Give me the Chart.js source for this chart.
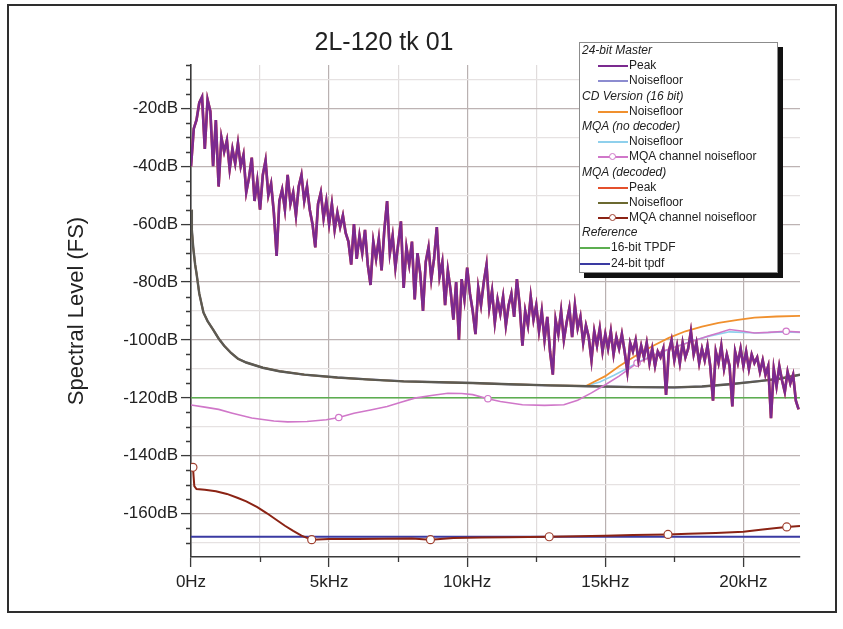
<!DOCTYPE html>
<html>
<head>
<meta charset="utf-8">
<script src="https://cdn.jsdelivr.net/npm/chart.js@4.4.1/dist/chart.umd.min.js"></script>
<style>
  html, body { margin: 0; padding: 0; background: #fff; }
  body { width: 843px; height: 629px; position: relative; overflow: hidden;
         font-family: "Liberation Sans", Arial, Helvetica, sans-serif; }
  #frame { position: absolute; left: 7px; top: 4px; width: 830px; height: 609px;
           border: 2px solid #2e2e2e; box-sizing: border-box; }
  #chart { position: absolute; left: 0; top: 0; }
  #title { position: absolute; left: 234px; width: 300px; top: 27px; text-align: center;
           font-size: 25px; color: #222; }
  #legend { position: absolute; left: 579px; top: 42px; width: 199px; height: 231px;
            box-sizing: border-box; border: 1px solid #8c8c8c; background: #fff;
            box-shadow: 5px 5px 0 #111; font-size: 12px; color: #222; }
  #legend .row { height: 15.2px; line-height: 15.2px; white-space: nowrap; }
  #legend .head { font-style: italic; padding-left: 2px; }
  #legend .item { padding-left: 18px; }
  #legend .item.flush { padding-left: 0; }
  #legend .sw { display: inline-block; width: 30px; height: 15px; vertical-align: top;
                position: relative; margin-right: 1px; }
  #legend .ln { position: absolute; left: 0; right: 0; top: 7px; height: 2px; }
  #legend .mk { position: absolute; left: 11px; top: 3.5px; width: 5px; height: 5px;
                border-radius: 50%; background: #fff; border: 1.5px solid; }
</style>
</head>
<body>
<div id="frame"></div>
<canvas id="chart" width="843" height="629"></canvas>
<div id="title">2L-120 tk 01</div>
<div id="legend"></div>
<script>
// eixos
const xTicksKHz = [0, 5, 10, 15, 20];
const yTicksDb = [-160, -140, -120, -100, -80, -60, -40, -20];

// 24-bit master, peak (a cada 0.1 kHz)
const peakFreqKHz = [
  0.0, 0.1, 0.2, 0.3, 0.4, 0.5, 0.6, 0.7, 0.8, 0.9,
  1.0, 1.1, 1.2, 1.3, 1.4, 1.5, 1.6, 1.7, 1.8, 1.9,
  2.0, 2.1, 2.2, 2.3, 2.4, 2.5, 2.6, 2.7, 2.8, 2.9,
  3.0, 3.1, 3.2, 3.3, 3.4, 3.5, 3.6, 3.7, 3.8, 3.9,
  4.0, 4.1, 4.2, 4.3, 4.4, 4.5, 4.6, 4.7, 4.8, 4.9,
  5.0, 5.1, 5.2, 5.3, 5.4, 5.5, 5.6, 5.7, 5.8, 5.9,
  6.0, 6.1, 6.2, 6.3, 6.4, 6.5, 6.6, 6.7, 6.8, 6.9,
  7.0, 7.1, 7.2, 7.3, 7.4, 7.5, 7.6, 7.7, 7.8, 7.9,
  8.0, 8.1, 8.2, 8.3, 8.4, 8.5, 8.6, 8.7, 8.8, 8.9,
  9.0, 9.1, 9.2, 9.3, 9.4, 9.5, 9.6, 9.7, 9.8, 9.9,
  10.0, 10.1, 10.2, 10.3, 10.4, 10.5, 10.6, 10.7, 10.8, 10.9,
  11.0, 11.1, 11.2, 11.3, 11.4, 11.5, 11.6, 11.7, 11.8, 11.9,
  12.0, 12.1, 12.2, 12.3, 12.4, 12.5, 12.6, 12.7, 12.8, 12.9,
  13.0, 13.1, 13.2, 13.3, 13.4, 13.5, 13.6, 13.7, 13.8, 13.9,
  14.0, 14.1, 14.2, 14.3, 14.4, 14.5, 14.6, 14.7, 14.8, 14.9,
  15.0, 15.1, 15.2, 15.3, 15.4, 15.5, 15.6, 15.7, 15.8, 15.9,
  16.0, 16.1, 16.2, 16.3, 16.4, 16.5, 16.6, 16.7, 16.8, 16.9,
  17.0, 17.1, 17.2, 17.3, 17.4, 17.5, 17.6, 17.7, 17.8, 17.9,
  18.0, 18.1, 18.2, 18.3, 18.4, 18.5, 18.6, 18.7, 18.8, 18.9,
  19.0, 19.1, 19.2, 19.3, 19.4, 19.5, 19.6, 19.7, 19.8, 19.9,
  20.0, 20.1, 20.2, 20.3, 20.4, 20.5, 20.6, 20.7, 20.8, 20.9,
  21.0, 21.1, 21.2, 21.3, 21.4, 21.5, 21.6, 21.7, 21.8, 21.9,
  22.0
];
const masterPeakDb = [
  -40, -27, -24, -18, -16, -34, -17, -21, -40, -24,
  -47, -30, -35, -31, -41, -34, -39, -32, -40, -36,
  -49, -44, -37, -52, -45, -55, -43, -38, -50, -46,
  -56, -71, -52, -48, -55, -43, -53, -49, -57, -47,
  -43, -52, -47, -55, -60, -68, -53, -49, -58, -52,
  -60, -53, -62, -56, -61, -57, -63, -66, -74, -60,
  -72, -64, -70, -62, -74, -81, -66, -72, -65, -76,
  -62, -52, -70, -64, -75, -67, -59, -82, -68, -74,
  -66, -86, -70, -77, -90, -73, -68, -79, -72, -61,
  -78, -73, -88, -76, -83, -93, -80, -100, -79, -86,
  -75, -84, -90, -98, -82, -88, -80, -74, -89, -83,
  -94, -86, -91, -85, -95, -88, -84, -92, -79, -88,
  -102, -90, -95, -85, -93, -88, -97, -90, -100, -92,
  -104, -112, -93, -98, -90, -100, -94, -89, -99, -88,
  -96, -92, -101, -95, -99, -107, -97, -102, -96, -104,
  -98, -103, -97, -105, -99, -103, -98, -104, -111, -101,
  -104, -100, -107, -102, -106, -101, -108, -103, -109, -104,
  -106, -103, -119, -104, -100, -107, -102, -108, -101, -106,
  -103, -97, -105, -101, -108, -103, -107, -102, -109, -121,
  -104, -108, -102, -110, -105, -109, -123, -104, -108, -103,
  -109, -104, -110, -105, -108, -106, -111, -107, -112, -109,
  -127, -110, -116, -109, -114, -118, -111, -115, -112, -121,
  -124
];
// MQA decoded, peak: same trace as the master (drawn underneath)
const decodedPeakDb = masterPeakDb;

// noisefloors (master, MQA decoded) - the dark curve
const noiseFreqKHz = [0, 0.03, 0.08, 0.15, 0.2, 0.3, 0.45, 0.6, 0.8, 1.0, 1.2, 1.45, 1.7, 2.0, 2.6, 3.2,
  4.1, 5.3, 6.5, 7.7, 9, 10.2, 11.5, 13, 14.4, 16, 17.5, 18.5, 19.5, 20.5, 21.3, 22.05];
const decodedNoiseDb = [-55, -62, -68, -74, -77, -84, -90.5, -93.5, -96.4, -99.5, -102, -104.5, -106.5, -107.8, -109.6, -110.8,
  -112, -113, -113.7, -114.3, -114.6, -114.9, -115.3, -115.7, -116, -116.3, -116.4, -116.1, -115.3, -114.3, -113.4, -112];
const masterNoiseDb = decodedNoiseDb;

// CD version noisefloor
const cdFreqKHz = [0, 0.03, 0.08, 0.15, 0.2, 0.3, 0.45, 0.6, 0.8, 1.0, 1.2, 1.45, 1.7, 2.0, 2.6, 3.2,
  4.1, 5.3, 6.5, 7.7, 9, 10.2, 11.5, 13, 14.3, 15.0, 15.5, 16.1, 16.7, 17.3, 17.9, 18.5, 19.1, 19.8, 20.4, 21.2, 22.05];
const cdNoiseDb = [-55, -62, -68, -74, -77, -84, -90.5, -93.5, -96.4, -99.5, -102, -104.5, -106.5, -107.8, -109.6, -110.8,
  -112, -113, -113.7, -114.3, -114.6, -114.9, -115.3, -115.7, -115.9, -112.5, -109.1, -105.5, -102.2, -99.3, -97.0, -95.4,
  -94.1, -93.1, -92.3, -91.9, -91.7];

// MQA no decoder noisefloor
const mqaFreqKHz = [0, 0.03, 0.08, 0.15, 0.2, 0.3, 0.45, 0.6, 0.8, 1.0, 1.2, 1.45, 1.7, 2.0, 2.6, 3.2,
  4.1, 5.3, 6.5, 7.7, 9, 10.2, 11.5, 13, 14.3, 14.8, 15.3, 15.8, 16.3, 16.8, 17.5, 18.2, 18.8, 19.5, 20.5, 21.5, 22.05];
const mqaNoiseDb = [-55, -62, -68, -74, -77, -84, -90.5, -93.5, -96.4, -99.5, -102, -104.5, -106.5, -107.8, -109.6, -110.8,
  -112, -113, -113.7, -114.3, -114.6, -114.9, -115.3, -115.7, -115.9, -114.5, -112.3, -109.8, -107.2, -105, -102.6, -100.2,
  -98.6, -97.2, -97.6, -97.2, -97.4];

// MQA no decoder, MQA channel noisefloor
const mqaChanFreqKHz = [0, 0.5, 1, 1.5, 2.2, 3, 3.5, 4.2, 4.9, 5.35, 5.9, 6.5, 7.1, 7.6, 8.1, 8.7, 9.3, 9.8, 10.2, 10.75,
  11.2, 12, 12.8, 13.5, 14, 14.5, 15, 15.5, 16.15, 16.5, 17, 17.5, 17.8, 18.3, 18.7, 19.1, 19.5, 20, 20.4, 20.9, 21.55, 22.05];
const mqaChanDb = [-122.5, -123.2, -124, -125.3, -127, -128, -128.3, -128.2, -127.6, -126.8, -125.3, -124.2, -123, -121.5,
  -120.1, -119.2, -118.4, -118.5, -118.9, -120.3, -121.3, -122.4, -122.6, -122.4, -120.8, -118.3, -115.5, -112.5, -108,
  -106.5, -104.2, -102.5, -101.6, -100, -98.7, -97.6, -96.4, -97, -97.6, -97.4, -97, -97.3];
const mqaChanMarkers = [5.35, 10.75, 16.15, 21.55];

// MQA decoded, MQA channel noisefloor
const decChanFreqKHz = [0, 0.07, 0.12, 0.2, 0.5, 0.9, 1.3, 1.7, 2.0, 2.4, 2.75, 3.1, 3.4, 3.7, 4.0, 4.2, 4.37, 5, 6, 7,
  8, 8.67, 9.5, 10.5, 11.5, 12.97, 14, 15, 16, 17.27, 18, 19, 20, 20.7, 21.2, 21.57, 22.05];
const decChanDb = [-143, -144, -150.5, -151.5, -151.8, -152.3, -153.2, -154.6, -155.8, -157.8, -159.9, -162.2, -164.2,
  -166, -167.6, -168.4, -169, -168.8, -168.8, -168.7, -168.6, -169, -168.4, -168.3, -168.2, -168, -167.8, -167.7, -167.4,
  -167.2, -167, -166.7, -166.3, -165.5, -165, -164.6, -164.3];
const decChanMarkers = [0.07, 4.37, 8.67, 12.97, 17.27, 21.57];

// reference
const tpdfFreqKHz = [0, 22.05];
const tpdf16Db = [-120, -120];
const tpdf24Db = [-168, -168];

function pts(xs, ys) {
  return xs.map((x, i) => ({ x: x, y: ys[i] }));
}

function markerRadius(list, r) {
  return ctx => (ctx.raw && list.includes(ctx.raw.x)) ? r : 0;
}

const datasets = [
  { label: 'Peak', data: pts(peakFreqKHz, masterPeakDb), borderColor: '#7b2a8f', borderWidth: 2.6, order: 0 },
  { label: 'Noisefloor', data: pts(noiseFreqKHz, masterNoiseDb), borderColor: '#8c8cd0', borderWidth: 2, order: 7 },
  { label: 'Noisefloor', data: pts(cdFreqKHz, cdNoiseDb), borderColor: '#f0902e', borderWidth: 1.8, order: 5 },
  { label: 'Noisefloor', data: pts(mqaFreqKHz, mqaNoiseDb), borderColor: '#8fd0ec', borderWidth: 1.6, order: 6 },
  { label: 'MQA channel noisefloor', data: pts(mqaChanFreqKHz, mqaChanDb), borderColor: '#d077c9', borderWidth: 1.6,
    pointRadius: markerRadius(mqaChanMarkers, 3.2), pointBackgroundColor: '#fff', pointBorderColor: '#d077c9',
    pointBorderWidth: 1.2, order: 3 },
  { label: 'Peak', data: pts(peakFreqKHz, decodedPeakDb), borderColor: '#e4502c', borderWidth: 2.6, order: 1 },
  { label: 'Noisefloor', data: pts(noiseFreqKHz, decodedNoiseDb), borderColor: '#5c5a52', borderWidth: 2.4, order: 4,
    swatch: '#6b6930' },
  { label: 'MQA channel noisefloor', data: pts(decChanFreqKHz, decChanDb), borderColor: '#8b2314', borderWidth: 2,
    pointRadius: markerRadius(decChanMarkers, 4), pointBackgroundColor: '#fff', pointBorderColor: '#a04030',
    pointBorderWidth: 1.2, order: 2 },
  { label: '16-bit TPDF', data: pts(tpdfFreqKHz, tpdf16Db), borderColor: '#5cae50', borderWidth: 1.6, order: 8 },
  { label: '24-bit tpdf', data: pts(tpdfFreqKHz, tpdf24Db), borderColor: '#3a3aa2', borderWidth: 2, order: 9 }
];
datasets.forEach(d => {
  d.fill = false;
  d.tension = 0;
  if (d.pointRadius === undefined) d.pointRadius = 0;
});

const legendGroups = [
  { head: '24-bit Master', items: [0, 1] },
  { head: 'CD Version (16 bit)', items: [2] },
  { head: 'MQA (no decoder)', items: [3, 4] },
  { head: 'MQA (decoded)', items: [5, 6, 7] },
  { head: 'Reference', items: [8, 9], flush: true }
];

const isMajorX = v => xTicksKHz.some(t => Math.abs(t - v) < 1e-6);
const isMajorY = v => yTicksDb.includes(v);
const axisColor = '#3a3a3a';

// marcas menores dos eixos
const minorTicks = {
  id: 'minorTicks',
  afterDraw(chart) {
    const { ctx, chartArea } = chart;
    const x = chart.scales.x, y = chart.scales.y;
    ctx.save();
    ctx.strokeStyle = axisColor;
    ctx.lineWidth = 1.3;
    ctx.beginPath();
    x.ticks.forEach(t => {
      if (isMajorX(t.value) || t.value >= x.max) return;
      const px = Math.round(x.getPixelForValue(t.value)) + 0.5;
      ctx.moveTo(px, chartArea.bottom);
      ctx.lineTo(px, chartArea.bottom + 5);
    });
    y.ticks.forEach(t => {
      if (isMajorY(t.value) || t.value <= y.min) return;
      const py = Math.round(y.getPixelForValue(t.value)) + 0.5;
      ctx.moveTo(chartArea.left - 5, py);
      ctx.lineTo(chartArea.left, py);
    });
    ctx.stroke();
    ctx.restore();
  }
};

const config = {
  type: 'line',
  data: { datasets: datasets },
  options: {
    responsive: false,
    animation: false,
    devicePixelRatio: 1,
    layout: { padding: { left: 0, top: 65, right: 43, bottom: 27 } },
    plugins: { legend: { display: false }, tooltip: { enabled: false } },
    scales: {
      x: {
        type: 'linear',
        min: 0,
        max: 22.05,
        border: { display: true, color: axisColor, width: 1.6 },
        grid: {
          color: ctx => {
            const v = ctx.tick.value;
            if (v <= 0 || v >= 22.05) return 'rgba(0,0,0,0)';
            return isMajorX(v) ? '#b9b1b1' : '#e0dcdc';
          },
          lineWidth: 1.2,
          tickLength: 10,
          tickColor: ctx => isMajorX(ctx.tick.value) ? axisColor : 'rgba(0,0,0,0)',
          tickWidth: 1.3
        },
        ticks: {
          stepSize: 2.5,
          includeBounds: false,
          autoSkip: false,
          maxRotation: 0,
          padding: 5,
          color: '#222',
          font: { size: 17, family: '"Liberation Sans", Arial, sans-serif' },
          callback: v => isMajorX(v) ? (v === 0 ? '0Hz' : Math.round(v) + 'kHz') : ''
        },
        afterFit: s => { s.height = 45; }
      },
      y: {
        type: 'linear',
        min: -175,
        max: -5,
        border: { display: true, color: axisColor, width: 1.6 },
        grid: {
          color: ctx => {
            const v = ctx.tick.value;
            if (isMajorY(v)) return '#bdb3b3';
            if (v % 10 === 0 && v > -175) return '#e6e2e2';
            return 'rgba(0,0,0,0)';
          },
          lineWidth: 1.2,
          tickLength: 10,
          tickColor: ctx => isMajorY(ctx.tick.value) ? axisColor : 'rgba(0,0,0,0)',
          tickWidth: 1.3
        },
        ticks: {
          stepSize: 5,
          autoSkip: false,
          padding: 3,
          color: '#222',
          font: { size: 17, family: '"Liberation Sans", Arial, sans-serif' },
          callback: v => isMajorY(v) ? v + 'dB' : ''
        },
        title: {
          display: true,
          text: 'Spectral Level (FS)',
          color: '#222',
          font: { size: 22, family: '"Liberation Sans", Arial, sans-serif' },
          padding: { top: 64, bottom: 0 }
        },
        afterFit: s => { s.width = 191; }
      }
    }
  },
  plugins: [minorTicks]
};

const chart = new Chart(document.getElementById('chart'), config);

// legenda em HTML
const legendEl = document.getElementById('legend');
legendGroups.forEach(g => {
  const h = document.createElement('div');
  h.className = 'row head';
  h.textContent = g.head;
  legendEl.appendChild(h);
  g.items.forEach(i => {
    const d = datasets[i];
    const row = document.createElement('div');
    row.className = 'row item' + (g.flush ? ' flush' : '');
    const sw = document.createElement('span');
    sw.className = 'sw';
    const ln = document.createElement('div');
    ln.className = 'ln';
    ln.style.background = d.swatch || d.borderColor;
    sw.appendChild(ln);
    if (typeof d.pointRadius === 'function') {
      const mk = document.createElement('div');
      mk.className = 'mk';
      mk.style.borderColor = d.pointBorderColor;
      sw.appendChild(mk);
    }
    row.appendChild(sw);
    row.appendChild(document.createTextNode(d.label));
    legendEl.appendChild(row);
  });
});
</script>
</body>
</html>
